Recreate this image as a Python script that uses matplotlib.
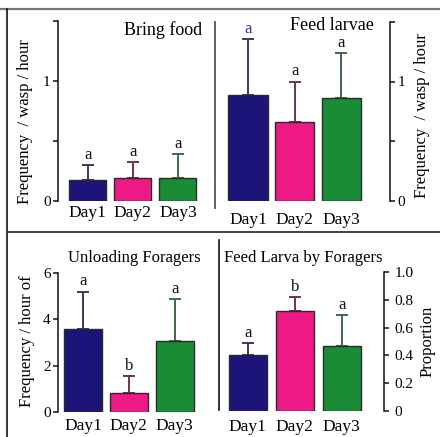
import matplotlib
matplotlib.use("Agg")
import matplotlib.pyplot as plt
from matplotlib.lines import Line2D

plt.rcParams['font.family'] = ['Liberation Serif', 'DejaVu Serif']

W, H = 440, 437

days = ["Day1", "Day2", "Day3"]

bring_food = [0.175, 0.19, 0.19]
bring_food_err = [0.125, 0.135, 0.20]
bring_food_sig = ["a", "a", "a"]

feed_larvae = [0.89, 0.66, 0.86]
feed_larvae_err = [0.47, 0.34, 0.38]
feed_larvae_sig = ["a", "a", "a"]

unloading = [3.58, 0.82, 3.07]
unloading_err = [1.62, 0.75, 1.81]
unloading_sig = ["a", "b", "a"]

feed_by_foragers = [0.40, 0.72, 0.47]
feed_by_foragers_err = [0.09, 0.10, 0.22]
feed_by_foragers_sig = ["a", "b", "a"]

bar_colors = ["#1c1479", "#ee1a85", "#1a8c36"]
err_colors = ["#3c3a5c", "#6e3352", "#3e6a4a"]


def px_axes(left, top, right, bottom):
    return fig.add_axes([left / W, 1 - bottom / H, (right - left) / W, (bottom - top) / H])


def fx(x):
    return x / W


def fy(y):
    return 1 - y / H


fig = plt.figure(figsize=(W / 100, H / 100), dpi=100)


def draw_panel(ax, values, errs, sigs, xlim, ylim, width, side, yticks, yticklabels,
               xpad, sig_colors=None):
    x = list(range(len(values)))
    ax.bar(x, values, width=width, color=bar_colors, edgecolor="#2a2a2a", linewidth=1.0,
           zorder=3)
    for i, (v, e) in enumerate(zip(values, errs)):
        ax.errorbar(i, v, yerr=[[0], [e]], fmt="none", ecolor=err_colors[i],
                    elinewidth=1.4, capsize=4.5, capthick=1.4, zorder=2)
        c = sig_colors[i] if sig_colors else "#111111"
        ax.annotate(sigs[i], (i, v + e), xytext=(0, 1.5), textcoords="offset points",
                    ha="center", va="bottom", fontsize=12, color=c)
    ax.set_xlim(*xlim)
    ax.set_ylim(*ylim)
    ax.set_xticks(x)
    ax.set_xticklabels(days, fontsize=12.5)
    ax.tick_params(axis="x", length=0, pad=xpad)
    for s in ["top", "bottom", "left", "right"]:
        ax.spines[s].set_visible(False)
    ax.spines[side].set_visible(True)
    ax.spines[side].set_linewidth(1.1)
    ax.spines[side].set_color("#111111")
    ax.yaxis.set_ticks_position(side)
    ax.set_yticks(yticks)
    ax.set_yticklabels(yticklabels, fontsize=11)
    ax.tick_params(axis="y", length=3.8, width=1.1, pad=1.5, color="#111111")
    ax.patch.set_alpha(0)


# top-left: Bring food
ax1 = px_axes(58, 21, 205, 201)
draw_panel(ax1, bring_food, bring_food_err, bring_food_sig, (-0.66, 2.6), (0, 1.5), 0.82,
           "left", [0, 0.5, 1, 1.5], ["0", "", "1", ""], xpad=3)
fig.text(fx(202), fy(30), "Bring food", ha="right", va="center", fontsize=13)
fig.text(fx(25), fy(122), "Frequency  / wasp / hour", rotation=90, ha="center",
         va="center", fontsize=12)

# top-right: Feed larvae
ax2 = px_axes(220, 22, 390, 200.5)
draw_panel(ax2, feed_larvae, feed_larvae_err, feed_larvae_sig, (-0.6, 3.04), (0, 1.5), 0.84,
           "right", [0, 0.5, 1, 1.5], ["0", "", "1", ""], xpad=8,
           sig_colors=["#3a2fa0", "#111111", "#111111"])
fig.text(fx(374), fy(26), "Feed larvae", ha="right", va="center", fontsize=13)
fig.text(fx(422), fy(116), "Frequency  / wasp / hour", rotation=90, ha="center",
         va="center", fontsize=12)

# bottom-left: Unloading Foragers
ax3 = px_axes(58, 273, 202, 412)
draw_panel(ax3, unloading, unloading_err, unloading_sig, (-0.55, 2.6), (0, 6), 0.83,
           "left", [0, 2, 4, 6], ["0", "2", "4", "6"], xpad=4)
fig.text(fx(134), fy(258), "Unloading Foragers", ha="center", va="center", fontsize=12)
fig.text(fx(27), fy(341), "Frequency / hour of", rotation=90, ha="center",
         va="center", fontsize=12)

# bottom-right: Feed Larva by Foragers
ax4 = px_axes(219.5, 272, 384, 411)
draw_panel(ax4, feed_by_foragers, feed_by_foragers_err, feed_by_foragers_sig,
           (-0.6, 2.9), (0, 1.0), 0.81, "right",
           [0, 0.2, 0.4, 0.6, 0.8, 1.0], ["0", "0.2", "0.4", "0.6", "0.8", "1.0"], xpad=6)
ax4.tick_params(axis="y", pad=4)
fig.text(fx(303), fy(258), "Feed Larva by Foragers", ha="center", va="center", fontsize=12)
fig.text(fx(428), fy(341), "Proportion", rotation=90, ha="center", va="center", fontsize=12)

# frame and separators
def px_line(xs, ys, color, lw):
    fig.add_artist(Line2D([fx(v) for v in xs], [fy(v) for v in ys], color=color,
                          linewidth=lw))

px_line([0, W], [9, 9], "#777777", 1.6)
px_line([7, 7], [9, H], "#111111", 1.2)
px_line([7, W], [232, 232], "#333333", 1.3)
px_line([215, 215], [22, 208], "#555555", 1.3)
px_line([219, 219], [240, 410], "#111111", 1.2)

fig.savefig("out.png", dpi=100)
